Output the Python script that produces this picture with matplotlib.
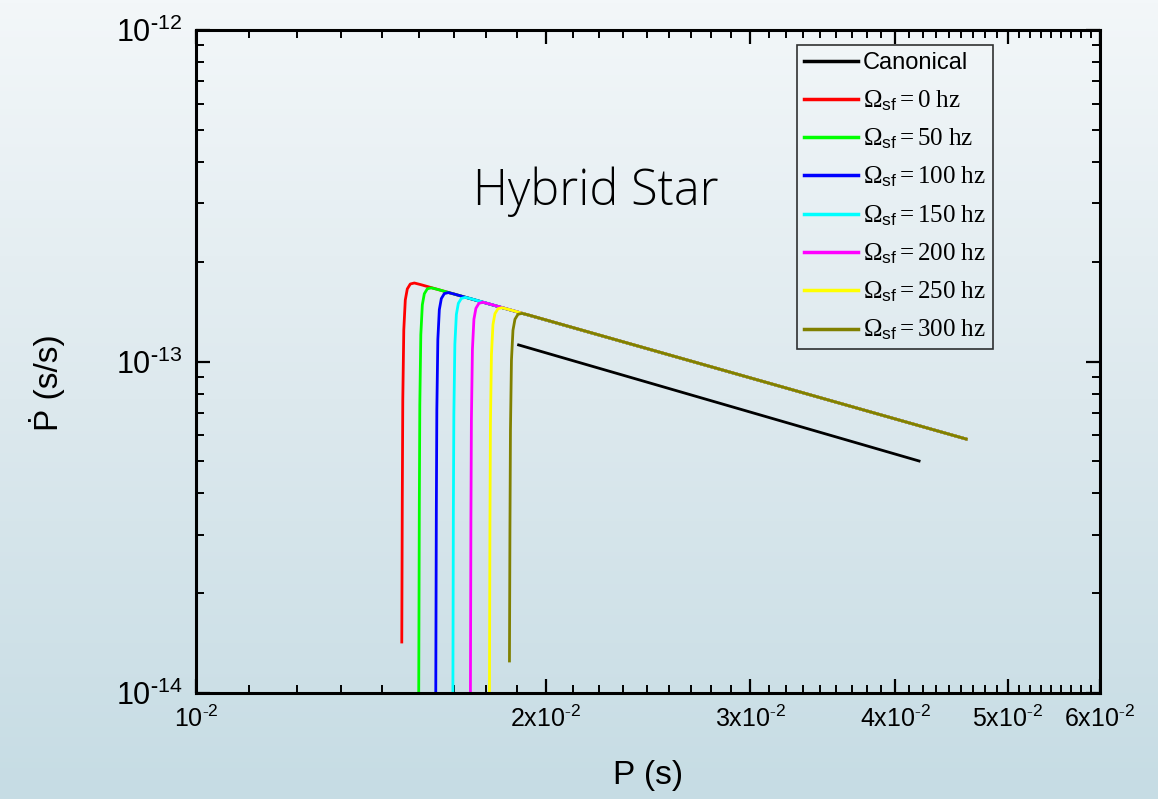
import numpy as np
import matplotlib
matplotlib.use("Agg")
import matplotlib.pyplot as plt
from matplotlib.colors import LinearSegmentedColormap
from matplotlib.ticker import FixedLocator, FixedFormatter, LogLocator, NullFormatter

plt.rcParams['font.family'] = ['Liberation Sans', 'DejaVu Sans']
plt.rcParams['mathtext.fontset'] = 'custom'
plt.rcParams['mathtext.rm'] = 'Liberation Serif'
plt.rcParams['mathtext.it'] = 'Liberation Serif:italic'
plt.rcParams['mathtext.bf'] = 'Liberation Serif:bold'
plt.rcParams['mathtext.sf'] = 'Liberation Sans'

# values: P in s, Pdot in units of 1e-14 s/s
pdot_unit = 1e-14

p_canon = [0.018953, 0.041920]
pdot_canon = [11.22, 5.010]

freqs = [0, 50, 100, 150, 200, 250, 300]
colors = ['#ff0000', '#00ff00', '#0000ff', '#00ffff', '#ff00ff', '#ffff00', '#808000']

p_0 = [0.015036, 0.015051, 0.015066, 0.015096, 0.015141, 0.015201, 0.015292, 0.015414, 0.015599, 0.046022]
pdot_0 = [1.425, 3.823, 7.653, 12.45, 15.33, 16.55, 17.13, 17.25, 17.07, 5.836]

p_50 = [0.015548, 0.015568, 0.015583, 0.015614, 0.015661, 0.015723, 0.015817, 0.015943, 0.016134, 0.046022]
pdot_50 = [0.9, 3.698, 7.402, 12.04, 14.83, 16.01, 16.57, 16.68, 16.51, 5.836]

p_100 = [0.016082, 0.016102, 0.016118, 0.016150, 0.016198, 0.016262, 0.016360, 0.016490, 0.016688, 0.046022]
pdot_100 = [0.9, 3.576, 7.159, 11.65, 14.34, 15.48, 16.03, 16.14, 15.97, 5.836]

p_150 = [0.016638, 0.016654, 0.016671, 0.016704, 0.016754, 0.016820, 0.016921, 0.017056, 0.017261, 0.046022]
pdot_150 = [0.9, 3.459, 6.925, 11.27, 13.87, 14.98, 15.50, 15.61, 15.45, 5.836]

p_200 = [0.017226, 0.017244, 0.017261, 0.017296, 0.017347, 0.017416, 0.017520, 0.017660, 0.017872, 0.046022]
pdot_200 = [0.9, 3.343, 6.693, 10.89, 13.41, 14.47, 14.98, 15.09, 14.93, 5.836]

p_250 = [0.017888, 0.017907, 0.017924, 0.017960, 0.018014, 0.018085, 0.018193, 0.018338, 0.018558, 0.046022]
pdot_250 = [0.9, 3.220, 6.446, 10.49, 12.91, 13.94, 14.43, 14.53, 14.38, 5.836]

p_300 = [0.018613, 0.018631, 0.018650, 0.018687, 0.018743, 0.018817, 0.018930, 0.019081, 0.019310, 0.046022]
pdot_300 = [1.249, 3.097, 6.199, 10.09, 12.42, 13.41, 13.88, 13.97, 13.83, 5.836]

curves_p = [p_0, p_50, p_100, p_150, p_200, p_250, p_300]
curves_pdot = [pdot_0, pdot_50, pdot_100, pdot_150, pdot_200, pdot_250, pdot_300]

x_major = [0.01, 0.02, 0.03, 0.04, 0.05, 0.06]
x_labels = [r'$\mathsf{10^{\text{-}2}}$', r'$\mathsf{2x10^{\text{-}2}}$', r'$\mathsf{3x10^{\text{-}2}}$',
            r'$\mathsf{4x10^{\text{-}2}}$', r'$\mathsf{5x10^{\text{-}2}}$', r'$\mathsf{6x10^{\text{-}2}}$']
y_major = [1e-14, 1e-13, 1e-12]
y_labels = [r'$\mathsf{10^{\text{-}14}}$', r'$\mathsf{10^{\text{-}13}}$', r'$\mathsf{10^{\text{-}12}}$']

fig = plt.figure(figsize=(11.58, 7.99), dpi=100)

# light blue slide-style background
bg = fig.add_axes([0, 0, 1, 1], zorder=-1)
cmap = LinearSegmentedColormap.from_list('bg', ['#f3f7f9', '#dde9ee', '#c6dce4'])
bg.imshow(np.linspace(0, 1, 256)[:, None], aspect='auto', cmap=cmap, extent=[0, 1, 0, 1])
bg.axis('off')

ax = fig.add_axes([196 / 1158, 1 - 693 / 799, 904 / 1158, 663 / 799])
ax.set_facecolor('none')

ax.plot(p_canon, np.array(pdot_canon) * pdot_unit, color='black', lw=2.0, label='Canonical')
for f, c, xs, ys in zip(freqs, colors, curves_p, curves_pdot):
    ax.plot(xs, np.array(ys) * pdot_unit, color=c, lw=2.0,
            label=r'$\Omega_{\mathsf{sf}} = %d\ \mathrm{hz}$' % f)

ax.set_xscale('log')
ax.set_yscale('log')
ax.set_xlim(0.01, 0.06)
ax.set_ylim(1e-14, 1e-12)

ax.xaxis.set_major_locator(FixedLocator(x_major))
ax.xaxis.set_major_formatter(FixedFormatter(x_labels))
x_minor = [m + 0.01 * i / 9 for m in x_major[:-1] for i in range(1, 9)]
ax.xaxis.set_minor_locator(FixedLocator(x_minor))
ax.xaxis.set_minor_formatter(NullFormatter())

ax.yaxis.set_major_locator(FixedLocator(y_major))
ax.yaxis.set_major_formatter(FixedFormatter(y_labels))
ax.yaxis.set_minor_locator(LogLocator(base=10, subs=np.arange(2, 10)))
ax.yaxis.set_minor_formatter(NullFormatter())

for s in ax.spines.values():
    s.set_linewidth(2.2)
ax.tick_params(which='both', direction='in', top=True, right=True, color='black')
ax.tick_params(which='major', length=10, width=1.6)
ax.tick_params(which='minor', length=5.5, width=1.4)
ax.tick_params(axis='x', labelsize=18, pad=9)
ax.tick_params(axis='y', labelsize=22, pad=10)

ax.set_xlabel('P (s)', fontsize=24, va='center')
ax.xaxis.set_label_coords(0.5, -0.1237)
ax.set_ylabel('Ṗ (s/s)', fontsize=24, va='center')
ax.yaxis.set_label_coords(-0.165, 0.4676)

ax.text(0.4425, 0.7557, 'Hybrid Star', transform=ax.transAxes, ha='center', va='center',
        fontsize=35, family=['Open Sans', 'DejaVu Sans'], fontweight='light')

leg = ax.legend(loc='upper right', bbox_to_anchor=(0.8817, 0.977), fontsize=17,
                frameon=True, fancybox=False, facecolor='none', edgecolor='black',
                handlelength=2.3, handletextpad=0.2, borderpad=0.3, labelspacing=0.58,
                borderaxespad=0)
leg.get_frame().set_linewidth(1.2)
for line in leg.get_lines():
    line.set_linewidth(2.5)
for t in leg.get_texts()[1:]:
    t.set_fontsize(18)

fig.savefig('out.png', dpi=100)
